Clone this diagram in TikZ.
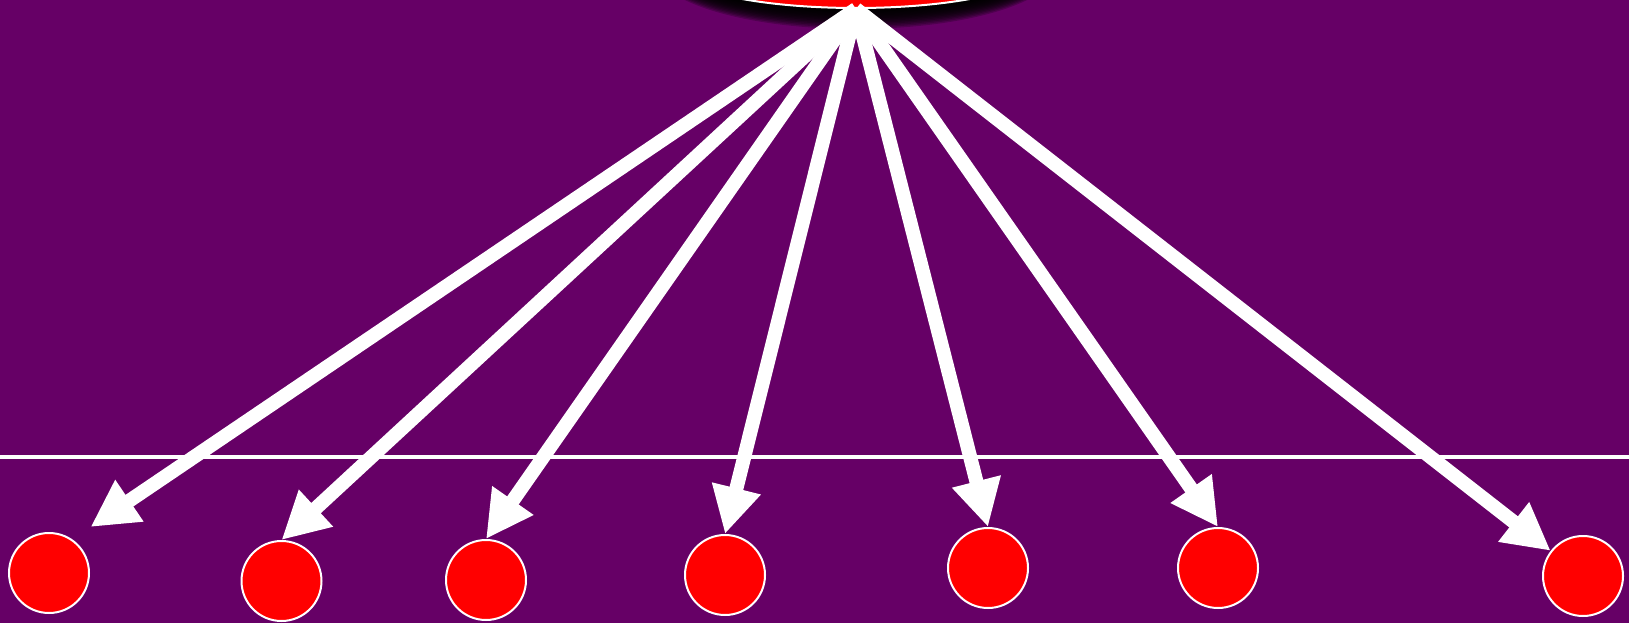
\documentclass[tikz,border=0pt]{standalone}
\usetikzlibrary{arrows.meta,shapes.geometric}
\definecolor{viola}{RGB}{102,0,102}
\begin{document}
\begin{tikzpicture}[x=1pt,y=-1pt,
    pallino/.style={circle, draw=white, line width=2pt, fill=red, minimum size=80pt, inner sep=0pt},
    freccia/.style={-{Triangle[length=47pt,width=47pt]}, white, line width=14pt}]
    % Sfondo
    \useasboundingbox (0,0) rectangle (1629,623);
    \fill[viola] (0,0) rectangle (1629,623);

    % Linea orizzontale
    \draw[white, line width=4pt] (0,456.5) -- (1629,456.5);

    % Alone nero dell'ellisse
    \foreach \g in {14,13,...,1}
        \fill[black, opacity=0.22] (856,-32) ellipse ({180+1.5*\g} and {40+1.5*\g});

    % Ellisse in alto (sorgente)
    \node[ellipse, draw=white, line width=2pt, fill=red, minimum width=360pt, minimum height=80pt, inner sep=0pt] (sorg) at (856,-32) {};

    % Pallini in basso
    \foreach \i/\x/\y in {1/49/573, 2/281.5/581, 3/486/580, 4/725/575, 5/988/568, 6/1218/568, 7/1583/576}
        \node[pallino] (p\i) at (\x,\y) {};

    % Frecce
    \coordinate (e1) at (90.5,527);
    \foreach \dest in {e1, p2.north, p3.north, p4.north, p5.north, p6.north, p7}
        \draw[freccia] (sorg.south) -- (\dest);
\end{tikzpicture}
\end{document}
